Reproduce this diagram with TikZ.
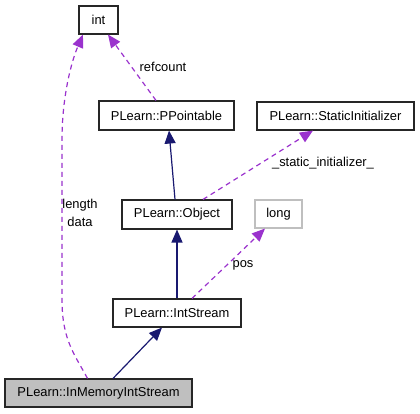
\documentclass[tikz,border=0pt]{standalone}
\usepackage{fontspec}
\setmainfont{Liberation Sans}
\usetikzlibrary{arrows.meta,calc}
\definecolor{navy}{HTML}{191970}
\definecolor{orchid}{HTML}{9A32CD}
\definecolor{boxgray}{HTML}{BFBFBF}
\begin{document}
\begin{tikzpicture}[x=1pt,y=-1pt,
  cls/.style={draw=black!85,line width=1.1pt,inner sep=0pt,font=\fontsize{12.9}{15}\selectfont},
  inh/.style={draw=navy,line width=1.2pt,-{Triangle[length=13pt,width=11pt]}},
  use/.style={draw=orchid,line width=1.2pt,dash pattern=on 5pt off 4pt,-{Triangle[length=13pt,width=11pt]}},
  lbl/.style={font=\fontsize{12.9}{15}\selectfont,inner sep=0pt}]
\useasboundingbox (0,0) rectangle (420,413);
\node[cls,minimum width=39pt,minimum height=28pt] (int) at (98.5,20) {int};
\node[cls,minimum width=135pt,minimum height=29pt] (pp) at (166.5,115.5) {PLearn::PPointable};
\node[cls,minimum width=157pt,minimum height=28pt] (si) at (335.5,116) {PLearn::StaticInitializer};
\node[cls,minimum width=110pt,minimum height=29pt] (obj) at (177,214.5) {PLearn::Object};
\node[cls,draw=boxgray,minimum width=47pt,minimum height=28pt] (long) at (278.5,214) {long};
\node[cls,minimum width=128pt,minimum height=28pt] (is) at (177,313) {PLearn::IntStream};
\node[cls,fill=boxgray,minimum width=187pt,minimum height=28pt] (mis) at (98.5,393) {PLearn::InMemoryIntStream};
% inheritance
\draw[inh] ([xshift=-2pt]obj.north) -- ([xshift=2.5pt]pp.south);
\draw[inh] (is.north) -- (obj.south);
\draw[inh] ([xshift=14.5pt]mis.north) -- ([xshift=-15pt]is.south);
% usage
\draw[use] ([xshift=-10.5pt]pp.north) -- ([xshift=9.5pt]int.south);
\draw[use] ([xshift=-11pt]mis.north) .. controls (75,355) and (62,340) .. (62,300) -- (62,140) .. controls (62,95) and (72,60) .. ([xshift=-15.5pt]int.south);
\draw[use] ([xshift=26pt]obj.north) -- ([xshift=-22.5pt]si.south);
\draw[use] ([xshift=15pt]is.north) -- ([xshift=-13.5pt]long.south);
% labels
\node[lbl] (lref) at (163,67) {refcount};
\node[lbl] (llen) at (80,205) {length};
\node[lbl] (ldat) at (80,222) {data};
\node[lbl] (lsi) at (323,163) {\_static\_initializer\_};
\node[lbl] (lpos) at (243,265) {pos};
\end{tikzpicture}
\end{document}
